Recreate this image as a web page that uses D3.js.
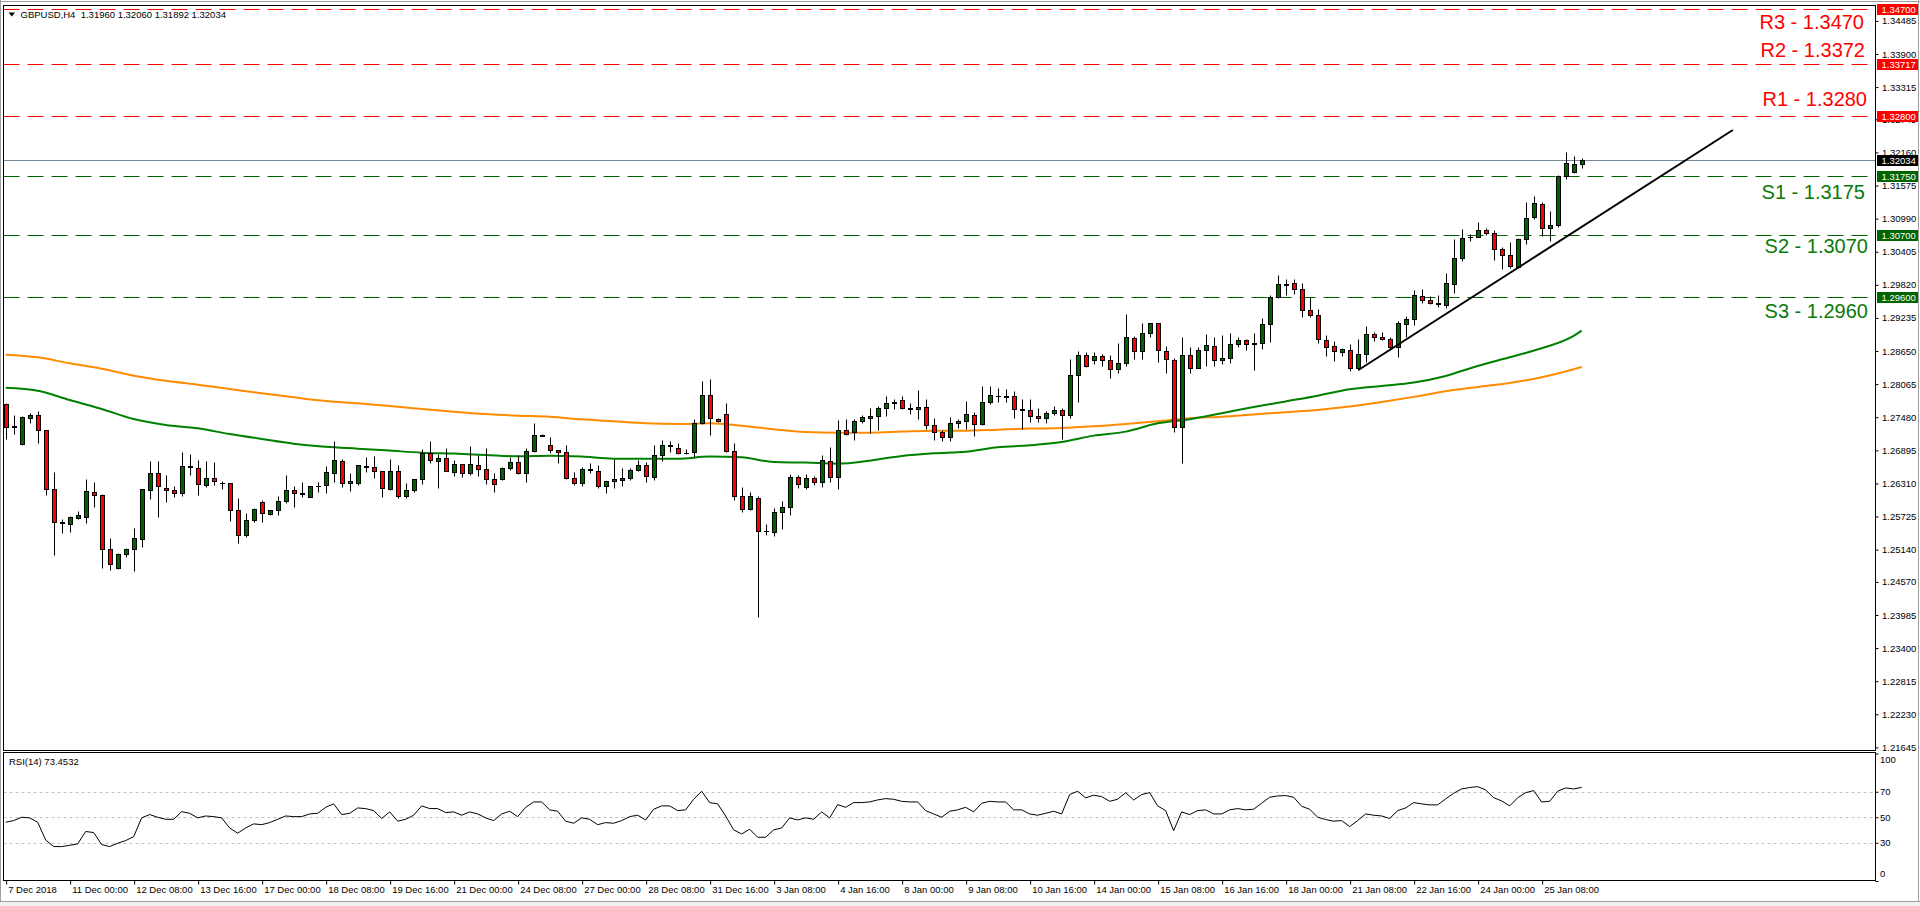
<!DOCTYPE html>
<html><head><meta charset="utf-8">
<script src="https://cdn.jsdelivr.net/npm/d3@7"></script>
<style>
html,body{margin:0;padding:0;background:#fff;overflow:hidden}
svg{display:block}
text{font-family:"Liberation Sans",Arial,sans-serif}
</style></head><body>
<svg id="c" width="1920" height="906"></svg>
<script>
// ---------------- DATA ----------------
const symbolTitle = "GBPUSD,H4  1.31960 1.32060 1.31892 1.32034";
const rsiTitle = "RSI(14) 73.4532";

const openP = [1.27708,1.27305,1.27013,1.27473,1.27514,1.27249,1.26206,1.25610,1.25588,1.25706,
1.25724,1.26153,1.26100,1.25146,1.24822,1.25058,1.25146,1.25335,1.26189,1.26489,
1.26230,1.26189,1.26142,1.26605,1.26577,1.26277,1.26407,1.26325,1.26312,1.25835,
1.25393,1.25658,1.25977,1.25765,1.25835,1.25994,1.26189,1.26120,1.26065,1.26260,
1.26277,1.26489,1.26701,1.26312,1.26312,1.26605,1.26595,1.26524,1.26206,1.26524,
1.26083,1.26189,1.26383,1.26843,1.26701,1.26754,1.26507,1.26648,1.26489,1.26630,
1.26560,1.26383,1.26383,1.26578,1.26684,1.26489,1.26878,1.27161,1.26984,1.26896,
1.26860,1.26401,1.26312,1.26550,1.26524,1.26259,1.26348,1.26365,1.26401,1.26542,
1.26630,1.26418,1.26807,1.26972,1.26931,1.26849,1.26860,1.27373,1.27867,1.27443,
1.27532,1.26878,1.26083,1.25853,1.26047,1.25464,1.25447,1.25800,1.25888,1.26418,
1.26254,1.26401,1.26330,1.26701,1.26419,1.27249,1.27214,1.27408,1.27461,1.27497,
1.27638,1.27732,1.27779,1.27638,1.27620,1.27656,1.27338,1.27214,1.27126,1.27373,
1.27408,1.27514,1.27355,1.27744,1.27850,1.27850,1.27850,1.27620,1.27603,1.27497,
1.27461,1.27550,1.27603,1.27514,1.28221,1.28574,1.28486,1.28557,1.28486,1.28327,
1.28433,1.28875,1.28645,1.28963,1.29140,1.28645,1.28486,1.27302,1.28574,1.28345,
1.28663,1.28734,1.28487,1.28522,1.28769,1.28840,1.28781,1.28787,1.29123,1.29600,
1.29820,1.29847,1.29741,1.29370,1.29282,1.28840,1.28734,1.28628,1.28663,1.28345,
1.28593,1.28946,1.28893,1.28858,1.28716,1.29123,1.29211,1.29618,1.29547,1.29488,
1.29459,1.29830,1.30289,1.30660,1.30660,1.30784,1.30731,1.30448,1.30342,1.30130,
1.30625,1.31014,1.31243,1.30819,1.30872,1.31738,1.31809,1.31960];

const highP = [1.27738,1.27514,1.27496,1.27555,1.27590,1.27255,1.26507,1.25676,1.25735,1.25818,
1.26389,1.26330,1.26118,1.25346,1.25087,1.25170,1.25517,1.26215,1.26707,1.26707,
1.26460,1.26265,1.26866,1.26831,1.26725,1.26707,1.26689,1.26360,1.26312,1.26053,
1.25788,1.25870,1.26018,1.25835,1.26094,1.26460,1.26265,1.26330,1.26259,1.26336,
1.26619,1.27066,1.26748,1.26489,1.26630,1.26772,1.26789,1.26524,1.26737,1.26630,
1.26312,1.26383,1.26919,1.27060,1.26825,1.26937,1.26725,1.26648,1.26972,1.26807,
1.26937,1.26489,1.26595,1.26772,1.26807,1.26937,1.27379,1.27184,1.27125,1.26896,
1.26984,1.26507,1.26595,1.26666,1.26630,1.26348,1.26737,1.26578,1.26578,1.26719,
1.26684,1.26984,1.27072,1.27055,1.27019,1.26914,1.27443,1.28115,1.28150,1.27461,
1.27726,1.27019,1.26242,1.26153,1.26083,1.25588,1.25871,1.25994,1.26471,1.26454,
1.26472,1.26436,1.26807,1.26949,1.27426,1.27444,1.27444,1.27515,1.27638,1.27673,
1.27850,1.27797,1.27850,1.27726,1.27956,1.27797,1.27461,1.27249,1.27479,1.27444,
1.27762,1.27567,1.28027,1.28027,1.27992,1.27974,1.27938,1.27797,1.27797,1.27638,
1.27585,1.27673,1.27638,1.28504,1.28645,1.28627,1.28627,1.28592,1.28574,1.28787,
1.29299,1.28910,1.29140,1.29140,1.29140,1.28734,1.28521,1.28893,1.28716,1.28716,
1.28946,1.28893,1.28928,1.28964,1.28893,1.28858,1.28964,1.29229,1.29635,1.29989,
1.29918,1.29918,1.29847,1.29600,1.29388,1.28928,1.28822,1.28699,1.28769,1.28858,
1.29087,1.28981,1.28981,1.28893,1.29176,1.29264,1.29724,1.29741,1.29618,1.29635,
1.30024,1.30625,1.30802,1.30713,1.30925,1.30819,1.30784,1.30483,1.30572,1.30642,
1.31279,1.31385,1.31279,1.31120,1.31756,1.32162,1.32091,1.32060];

const lowP = [1.27090,1.27184,1.26996,1.27373,1.27031,1.26100,1.25052,1.25429,1.25458,1.25676,
1.25617,1.25900,1.24822,1.24781,1.24793,1.25005,1.24757,1.25181,1.26041,1.25724,
1.25988,1.26077,1.26088,1.26465,1.26112,1.26253,1.26283,1.26212,1.25653,1.25264,
1.25358,1.25629,1.25629,1.25747,1.25747,1.25959,1.25900,1.26065,1.26065,1.26165,
1.26147,1.26342,1.26253,1.26183,1.26277,1.26513,1.26401,1.26065,1.26189,1.26047,
1.26047,1.26153,1.26307,1.26666,1.26236,1.26524,1.26436,1.26418,1.26454,1.26436,
1.26295,1.26165,1.26365,1.26542,1.26471,1.26330,1.26860,1.27143,1.26843,1.26666,
1.26383,1.26277,1.26259,1.26489,1.26224,1.26136,1.26224,1.26259,1.26365,1.26524,
1.26330,1.26365,1.26701,1.26860,1.26825,1.26825,1.26772,1.27355,1.27161,1.27396,
1.26860,1.26012,1.25800,1.25835,1.23956,1.25394,1.25376,1.25500,1.25747,1.26224,
1.26207,1.26277,1.26254,1.26330,1.26207,1.27161,1.27072,1.27373,1.27196,1.27249,
1.27497,1.27620,1.27620,1.27532,1.27444,1.27267,1.27072,1.27055,1.27055,1.27285,
1.27267,1.27143,1.27338,1.27709,1.27744,1.27744,1.27461,1.27267,1.27391,1.27391,
1.27373,1.27514,1.27090,1.27461,1.27744,1.28362,1.28416,1.28380,1.28168,1.28256,
1.28380,1.28504,1.28504,1.28893,1.28451,1.28256,1.27214,1.26666,1.28256,1.28345,
1.28393,1.28381,1.28416,1.28434,1.28716,1.28663,1.28310,1.28681,1.28805,1.29582,
1.29635,1.29653,1.29247,1.29247,1.28787,1.28557,1.28469,1.28557,1.28292,1.28310,
1.28451,1.28822,1.28840,1.28663,1.28540,1.28893,1.29105,1.29494,1.29476,1.29423,
1.29406,1.29671,1.30236,1.30589,1.30660,1.30696,1.30254,1.30095,1.30112,1.30112,
1.30537,1.30978,1.30678,1.30589,1.30837,1.31685,1.31791,1.31892];

const closeP = [1.27302,1.27320,1.27479,1.27514,1.27249,1.26206,1.25623,1.25620,1.25712,1.25747,
1.26171,1.26100,1.25146,1.24881,1.25058,1.25152,1.25340,1.26206,1.26489,1.26259,
1.26189,1.26147,1.26613,1.26618,1.26295,1.26407,1.26348,1.26320,1.25835,1.25393,
1.25658,1.25853,1.25782,1.25835,1.25994,1.26189,1.26136,1.26140,1.26259,1.26270,
1.26507,1.26719,1.26312,1.26348,1.26630,1.26615,1.26524,1.26224,1.26524,1.26083,
1.26189,1.26383,1.26843,1.26719,1.26754,1.26524,1.26648,1.26489,1.26648,1.26560,
1.26383,1.26295,1.26578,1.26684,1.26489,1.26878,1.27161,1.27155,1.26896,1.26860,
1.26401,1.26312,1.26560,1.26560,1.26259,1.26348,1.26383,1.26401,1.26542,1.26630,
1.26436,1.26807,1.26984,1.26984,1.26843,1.26855,1.27373,1.27867,1.27461,1.27408,
1.26878,1.26083,1.25853,1.26083,1.25464,1.25470,1.25800,1.25888,1.26418,1.26295,
1.26401,1.26330,1.26719,1.26419,1.27249,1.27179,1.27408,1.27479,1.27497,1.27638,
1.27726,1.27744,1.27638,1.27632,1.27656,1.27338,1.27214,1.27126,1.27373,1.27408,
1.27532,1.27355,1.27744,1.27868,1.27862,1.27838,1.27620,1.27614,1.27497,1.27461,
1.27550,1.27603,1.27514,1.28221,1.28574,1.28380,1.28557,1.28486,1.28327,1.28433,
1.28893,1.28645,1.28963,1.29140,1.28663,1.28504,1.27302,1.28574,1.28345,1.28663,
1.28752,1.28487,1.28522,1.28769,1.28840,1.28769,1.28787,1.29123,1.29600,1.29830,
1.29840,1.29741,1.29370,1.29282,1.28858,1.28716,1.28646,1.28681,1.28345,1.28593,
1.28946,1.28893,1.28858,1.28716,1.29140,1.29211,1.29635,1.29547,1.29494,1.29500,
1.29847,1.30289,1.30642,1.30672,1.30784,1.30731,1.30448,1.30342,1.30148,1.30625,
1.30996,1.31261,1.30819,1.30872,1.31738,1.31968,1.31950,1.32034];

// moving averages, read every 4 bars
const maBars = [0,4,8,12,16,20,24,28,32,36,40,44,48,52,56,60,64,68,72,76,80,84,88,92,96,100,
104,108,112,116,120,124,128,132,136,140,144,148,152,156,160,164,168,172,176,180,184,188,192,196,197];
const maSlow = [1.28586,1.28539,1.28433,1.28338,1.28215,1.28126,1.28056,1.27979,1.27903,1.27832,
1.27767,1.27726,1.27679,1.27626,1.27579,1.27538,1.27508,1.27490,1.27443,1.27408,
1.27373,1.27361,1.27373,1.27331,1.27267,1.27220,1.27208,1.27208,1.27226,1.27243,
1.27243,1.27261,1.27279,1.27290,1.27320,1.27361,1.27408,1.27461,1.2749,1.2753,
1.2757,1.2761,1.2767,1.2775,1.2784,1.2794,1.28015,1.28086,1.28186,1.28328,1.28369];
const maFast = [1.28003,1.27950,1.27785,1.27626,1.27449,1.27343,1.27284,1.27184,1.27096,1.27013,
1.26960,1.26925,1.26890,1.26854,1.26837,1.26813,1.26790,1.26801,1.26784,1.26748,
1.26748,1.26748,1.26784,1.26772,1.26689,1.26678,1.26660,1.26713,1.26796,1.26843,
1.26872,1.26949,1.26984,1.27043,1.27155,1.27226,1.27373,1.27444,1.2755,1.2766,
1.2776,1.2786,1.27974,1.28033,1.28092,1.28210,1.28387,1.28540,1.28699,1.28917,1.29011];

const rsiValues = [46.1,47.4,50,49.5,46.1,32.2,27,27,28,29.1,
38.8,38,28.6,27,29.6,31.7,34.8,49.5,52.1,50,
48.4,48.4,54.4,53.1,49.5,51,50.5,49.5,41.6,37.5,
41.6,44.8,44.2,45.8,48.4,51,50.5,50.5,52.6,53.1,
57.8,60.5,52.1,53.1,57.3,56.8,55.2,49,54.2,46.9,
48.4,51.6,58.9,56.8,56.8,53.7,54.2,51.6,54.2,52.6,
49.5,47.4,52.6,54.7,50.5,57.8,62,62,55.8,54.7,
46.9,45.3,49.5,48.4,44.2,45.8,45.3,47.4,50.5,51.6,
47.9,56.3,58.9,58.9,55.2,55.8,64.1,70.4,61.5,60.5,
51,40.1,36.9,40.6,34.3,34.3,40.1,41.6,49.5,47.9,
49.5,48.4,54.2,49.5,59.9,57.8,61.5,61.5,62,63.6,
64.6,64.1,62.5,62,62,55.2,52.6,50,54.7,55.8,
57.8,54.2,61,62.5,62,62,55.8,55.8,52.6,51.6,
53.1,54.7,52.6,67.8,70.4,65.2,67.3,66.2,62.5,64.1,
69.3,63.6,67.8,69.3,58.9,55.2,39.5,54.2,52.1,55.2,
55.8,52.6,52.6,55.8,56.8,55.8,56.3,61,65.7,66.7,
67,65.7,58.6,56.3,50,48.2,46.9,47.4,42.7,47.4,
52.6,51.6,51,49,55.2,57.3,61.5,60.5,59.7,59.7,
64.4,68.8,72.2,73.3,74,71.4,65.4,62.8,58.9,65.2,
69.3,70.9,62,62.5,70.4,73,72.2,73.45];
const rsiLevels = [70,50,30];
const rsiTicks = [100,70,50,30,0];

const priceTicks = [1.34485,1.33900,1.33315,1.32745,1.32160,1.31575,1.30990,1.30405,1.29820,1.29235,
1.28650,1.28065,1.27480,1.26895,1.26310,1.25725,1.25140,1.24570,1.23985,1.23400,1.22815,1.22230,1.21645];

const dateTickBars = [0,8,16,24,32,40,48,56,64,72,80,88,96,104,112,120,128,136,144,152,160,168,176,184,192];
const dateLabels = ["7 Dec 2018","11 Dec 00:00","12 Dec 08:00","13 Dec 16:00","17 Dec 00:00","18 Dec 08:00",
"19 Dec 16:00","21 Dec 00:00","24 Dec 08:00","27 Dec 00:00","28 Dec 08:00","31 Dec 16:00","3 Jan 08:00",
"4 Jan 16:00","8 Jan 00:00","9 Jan 08:00","10 Jan 16:00","14 Jan 00:00","15 Jan 08:00","16 Jan 16:00",
"18 Jan 00:00","21 Jan 08:00","22 Jan 16:00","24 Jan 00:00","25 Jan 08:00"];

const levelValues = [1.3470,1.33717,1.3280,1.3175,1.3070,1.2960];
const levelTexts = ["R3 - 1.3470","R2 - 1.3372","R1 - 1.3280","S1 - 1.3175","S2 - 1.3070","S3 - 1.2960"];
const levelKinds = ["R","R","R","S","S","S"];
const currentPrice = 1.32034;

const trendBars = [169.1,215.9];
const trendPrices = [1.28315,1.32557];

// ---------------- LAYOUT / STYLE ----------------
const levelTextDy = [20,-7,-10.5,23,18,21];
const levelTextX = [1864,1865,1867,1865,1868,1868];
const colR = "#ff0000", colSLine = "#006400", colSText = "#0a7a0a";
const bull = "#006400", bear = "#ff0000";

const svg = d3.select("#c");
const L = 3.5, R = 1875.5, T = 5.5, B = 750.5, RT = 752.5, RB = 880.5;

const x = d3.scaleLinear().domain([0,233.67]).range([5.67,1875]);
const y = d3.scaleLinear().domain([1.21599,1.34801]).range([750,3]);
const yr = d3.scaleLinear().domain([0,100]).range([881,753.5]);
const px = i => Math.round(x(i));
const py = v => Math.round(y(v)) + 0.5;

svg.append("rect").attr("width",1920).attr("height",906).attr("fill","#fff");

const defs = svg.append("defs");
defs.append("clipPath").attr("id","mainClip").append("rect")
  .attr("x",4).attr("y",6).attr("width",1871).attr("height",744);
defs.append("clipPath").attr("id","rsiClip").append("rect")
  .attr("x",4).attr("y",753).attr("width",1871).attr("height",127);

// window chrome
svg.append("line").attr("x1",0).attr("x2",1920).attr("y1",1.5).attr("y2",1.5).attr("stroke","#a0a0a0");
svg.append("line").attr("x1",0.5).attr("x2",0.5).attr("y1",0).attr("y2",902).attr("stroke","#a0a0a0");
svg.append("line").attr("x1",1918.5).attr("x2",1918.5).attr("y1",0).attr("y2",902).attr("stroke","#a0a0a0");
svg.append("rect").attr("x",0).attr("y",901).attr("width",1920).attr("height",5).attr("fill","#f0f0f0");
svg.append("line").attr("x1",0).attr("x2",1920).attr("y1",901.5).attr("y2",901.5).attr("stroke","#a0a0a0");

const main = svg.append("g").attr("clip-path","url(#mainClip)");

// level lines
levelValues.forEach((v,k)=>{
  main.append("line").attr("x1",L).attr("x2",R).attr("y1",py(v)).attr("y2",py(v))
    .attr("stroke", levelKinds[k]==="R"?colR:colSLine).attr("stroke-width",1)
    .attr("stroke-dasharray","16,8");
});
// current price line
main.append("line").attr("x1",L).attr("x2",R).attr("y1",py(currentPrice)).attr("y2",py(currentPrice))
  .attr("stroke","#778899").attr("stroke-width",1);

// moving averages
const maLine = vals => d3.line().x((d,i)=>x(maBars[i])).y(d=>y(d)).curve(d3.curveMonotoneX)(vals);
main.append("path").attr("d",maLine(maSlow)).attr("fill","none").attr("stroke","#ff8c00").attr("stroke-width",2);
main.append("path").attr("d",maLine(maFast)).attr("fill","none").attr("stroke","#008000").attr("stroke-width",2);

// candles
const idx = d3.range(closeP.length);
const cg = main.append("g");
cg.selectAll("line.w").data(idx).join("line").attr("class","w")
  .attr("x1",i=>px(i)+0.5).attr("x2",i=>px(i)+0.5)
  .attr("y1",i=>py(highP[i])).attr("y2",i=>py(lowP[i]))
  .attr("stroke","#000").attr("stroke-width",1);
idx.forEach(i=>{
  const o=openP[i], c=closeP[i];
  const yt = py(Math.max(o,c)), yb = py(Math.min(o,c));
  if (yb - yt < 1) {
    cg.append("line").attr("x1",px(i)-2).attr("x2",px(i)+3).attr("y1",yt).attr("y2",yt)
      .attr("stroke","#000").attr("stroke-width",1);
  } else {
    cg.append("rect").attr("x",px(i)-1.5).attr("width",4).attr("y",yt).attr("height",yb-yt)
      .attr("fill", c>=o?bull:bear).attr("stroke","#000").attr("stroke-width",1);
  }
});

// trend line
main.append("line").attr("x1",x(trendBars[0])).attr("y1",y(trendPrices[0]))
  .attr("x2",x(trendBars[1])).attr("y2",y(trendPrices[1]))
  .attr("stroke","#000").attr("stroke-width",2);

// level texts
levelValues.forEach((v,k)=>{
  svg.append("text").attr("x",levelTextX[k]).attr("y",y(v)+levelTextDy[k])
    .attr("text-anchor","end").attr("font-size","20px")
    .attr("fill", levelKinds[k]==="R"?colR:colSText).text(levelTexts[k]);
});

// frames
svg.append("rect").attr("x",L).attr("y",T).attr("width",R-L).attr("height",B-T)
  .attr("fill","none").attr("stroke","#000");
svg.append("rect").attr("x",L).attr("y",RT).attr("width",R-L).attr("height",RB-RT)
  .attr("fill","none").attr("stroke","#000");

// title
svg.append("path").attr("d","M8.5,12.5 L15,12.5 L11.75,16.5 Z").attr("fill","#000");
svg.append("text").attr("x",20.5).attr("y",18.3).attr("font-size","9.5px").attr("fill","#000")
  .attr("xml:space","preserve").style("white-space","pre").text(symbolTitle);

// price axis
const pa = svg.append("g").attr("transform","translate(1875.5,0)")
  .call(d3.axisRight(y).tickValues(priceTicks).tickFormat(d3.format(".5f")).tickSize(3).tickPadding(3.5));
pa.select(".domain").remove();
pa.selectAll("text").attr("font-size","9.5px").attr("font-family","Liberation Sans, Arial, sans-serif").attr("fill","#000");
pa.selectAll("line").attr("stroke","#000");

// price boxes
const boxes = levelValues.map((v,k)=>({v, col: levelKinds[k]==="R"?"#ff0000":"#006400"}))
  .concat([{v:currentPrice, col:"#000"}]);
boxes.forEach(b=>{
  const yy = Math.round(y(b.v));
  svg.append("rect").attr("x",1877).attr("y",yy-5).attr("width",41).attr("height",11).attr("fill",b.col);
  svg.append("text").attr("x",1881.5).attr("y",yy+0.5).attr("dy","0.35em").attr("font-size","9.5px")
    .attr("fill","#fff").text(d3.format(".5f")(b.v));
});

// RSI panel
const rg = svg.append("g").attr("clip-path","url(#rsiClip)");
rsiLevels.forEach(l=>{
  rg.append("line").attr("x1",L).attr("x2",R).attr("y1",Math.round(yr(l))+0.5).attr("y2",Math.round(yr(l))+0.5)
    .attr("stroke","#c0c0c0").attr("stroke-dasharray","3,3");
});
rg.append("path").attr("d", d3.line().x((d,i)=>x(i)).y(d=>yr(d))(rsiValues))
  .attr("fill","none").attr("stroke","#000").attr("stroke-width",1);
svg.append("text").attr("x",9).attr("y",765).attr("font-size","9.5px").attr("fill","#000").text(rsiTitle);

const ra = svg.append("g").attr("transform","translate(1875.5,0)")
  .call(d3.axisRight(yr).tickValues(rsiTicks).tickFormat(d3.format("d")).tickSize(3).tickPadding(1.5));
ra.select(".domain").remove();
ra.selectAll("text").attr("font-size","9.5px").attr("font-family","Liberation Sans, Arial, sans-serif").attr("fill","#000")
  .attr("transform",d=> d===100?"translate(0,5.5)":(d===0?"translate(0,-7.5)":null));
ra.selectAll("line").attr("stroke","#000");

// date axis
const da = svg.append("g").attr("transform",`translate(0,${RB})`)
  .call(d3.axisBottom(x).tickValues(dateTickBars).tickFormat((d,i)=>dateLabels[i]).tickSize(4));
da.select(".domain").remove();
da.selectAll("line").attr("stroke","#000").attr("transform","translate(0.5,0)");
da.selectAll("text").attr("font-size","9.5px").attr("font-family","Liberation Sans, Arial, sans-serif")
  .attr("fill","#000").attr("text-anchor","start").attr("x",2).attr("y",5.5);
</script>
</body></html>
